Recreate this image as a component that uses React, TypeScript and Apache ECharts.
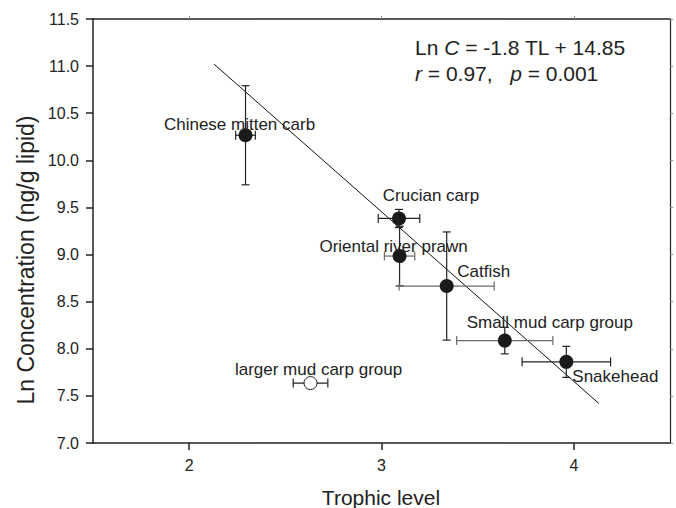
import React, { useEffect, useRef } from "react";
import * as echarts from "echarts";

// ---- data ----
const species = [
  "Chinese mitten carb",
  "Crucian carp",
  "Oriental river prawn",
  "Catfish",
  "Small mud carp group",
  "Snakehead",
  "larger mud carp group",
];
const trophicLevel = [2.293, 3.091, 3.094, 3.339, 3.641, 3.961, 2.631];
const lnConcentration = [10.266, 9.383, 8.984, 8.666, 8.087, 7.861, 7.636];
const trophicErr = [0.051, 0.108, 0.079, 0.247, 0.25, 0.23, 0.09];
const concErr = [0.526, 0.096, 0.317, 0.574, 0.141, 0.165, 0];
const regressionLine = [
  [2.13, 11.02],
  [4.13, 7.42],
];
const xTicks = { min: 1.5, max: 4.5, interval: 0.5 };
const yTicks = { min: 7.0, max: 11.5, interval: 0.5 };
const xTitle = "Trophic level";
const yTitle = "Ln Concentration (ng/g lipid)";
const equationLine1 = "Ln {i|C} = -1.8 TL + 14.85";
const equationLine2 = "{i|r} = 0.97,   {i|p} = 0.001";

// ---- presentation ----
const FONT = "'Liberation Sans', Arial, Helvetica, sans-serif";
const openMarker = new Set(["larger mud carp group"]);
const greyHBar = new Set(["Catfish", "Small mud carp group", "Oriental river prawn"]);
const labelOffsets: Record<string, [number, number]> = {
  "Chinese mitten carb": [-6, -11],
  "Crucian carp": [32, -23],
  "Oriental river prawn": [-6, -10],
  Catfish: [37, -15],
  "Small mud carp group": [45, -18],
  Snakehead: [49, 15],
  "larger mud carp group": [8, -14],
};

export default function App() {
  const ref = useRef<HTMLDivElement>(null);
  useEffect(() => {
    if (!ref.current) return;
    const chart = echarts.init(ref.current, undefined, { renderer: "svg" });

    const errData = species.map((s, i) => [
      trophicLevel[i],
      lnConcentration[i],
      trophicErr[i],
      concErr[i],
      i,
    ]);

    const pointData = species.map((s, i) => ({
      name: s,
      value: [trophicLevel[i], lnConcentration[i]],
      symbolSize: openMarker.has(s) ? 13 : 14,
      itemStyle: openMarker.has(s)
        ? { color: "#ffffff", borderColor: "#222", borderWidth: 1, opacity: 1 }
        : { color: "#1a1a1a", borderColor: "#1a1a1a", borderWidth: 0, opacity: 1 },
      label: {
        show: true,
        position: "inside",
        offset: labelOffsets[s],
        formatter: s,
        color: "#222",
        fontSize: 17,
        fontFamily: FONT,
        textBorderWidth: 0,
      },
    }));

    const axisLine = { show: true, lineStyle: { color: "#222", width: 1.5 } };

    chart.setOption({
      animation: false,
      backgroundColor: "#ffffff",
      grid: { left: 93, right: 6, top: 19, bottom: 65, containLabel: false },
      xAxis: [
        {
          type: "value",
          ...xTicks,
          position: "bottom",
          axisLine,
          axisTick: {
            show: true,
            inside: false,
            length: 7,
            lineStyle: { color: "#222", width: 1.5 },
            customValues: [2, 3, 4],
          },
          axisLabel: {
            show: true,
            margin: 14,
            fontSize: 16,
            color: "#222",
            fontFamily: FONT,
            customValues: [2, 3, 4],
            formatter: (v: number) => String(v),
          },
          splitLine: { show: false },
        },
        {
          type: "value",
          ...xTicks,
          position: "top",
          axisLine,
          axisTick: {
            show: true,
            inside: false,
            length: 3,
            lineStyle: { color: "#888", width: 1 },
            customValues: [2, 3, 4],
          },
          axisLabel: { show: false },
          splitLine: { show: false },
        },
      ],
      yAxis: [
        {
          type: "value",
          ...yTicks,
          position: "left",
          axisLine,
          axisTick: {
            show: true,
            inside: false,
            length: 7,
            lineStyle: { color: "#222", width: 1.5 },
          },
          axisLabel: {
            show: true,
            margin: 14,
            fontSize: 16,
            color: "#222",
            fontFamily: FONT,
            formatter: (v: number) => v.toFixed(1),
          },
          splitLine: { show: false },
        },
        {
          type: "value",
          ...yTicks,
          position: "right",
          axisLine: { show: true, lineStyle: { color: "#222", width: 1.2 } },
          axisTick: {
            show: true,
            inside: false,
            length: 3,
            lineStyle: { color: "#888", width: 1 },
          },
          axisLabel: { show: false },
          splitLine: { show: false },
        },
      ],
      series: [
        {
          type: "line",
          data: regressionLine,
          showSymbol: false,
          symbol: "none",
          lineStyle: { color: "#111", width: 1 },
          silent: true,
          z: 1,
        },
        {
          type: "custom",
          data: errData,
          z: 2,
          renderItem: (params: any, api: any) => {
            const x = api.value(0);
            const y = api.value(1);
            const ex = api.value(2);
            const ey = api.value(3);
            const idx = api.value(4);
            const name = species[idx];
            const hColor = greyHBar.has(name) ? "#6a6a6a" : "#222";
            const vColor = "#222";
            const children: any[] = [];
            const cap = 4.5;
            if (ex > 0) {
              const l = api.coord([x - ex, y]);
              const r = api.coord([x + ex, y]);
              children.push(
                { type: "line", shape: { x1: l[0], y1: l[1], x2: r[0], y2: r[1] }, style: { stroke: hColor, lineWidth: 1.2 } },
                { type: "line", shape: { x1: l[0], y1: l[1] - cap, x2: l[0], y2: l[1] + cap }, style: { stroke: hColor, lineWidth: 1.2 } },
                { type: "line", shape: { x1: r[0], y1: r[1] - cap, x2: r[0], y2: r[1] + cap }, style: { stroke: hColor, lineWidth: 1.2 } }
              );
            }
            if (ey > 0) {
              const t = api.coord([x, y + ey]);
              const b = api.coord([x, y - ey]);
              children.push(
                { type: "line", shape: { x1: t[0], y1: t[1], x2: b[0], y2: b[1] }, style: { stroke: vColor, lineWidth: 1.2 } },
                { type: "line", shape: { x1: t[0] - 4, y1: t[1], x2: t[0] + 4, y2: t[1] }, style: { stroke: vColor, lineWidth: 1.2 } },
                { type: "line", shape: { x1: b[0] - 4, y1: b[1], x2: b[0] + 4, y2: b[1] }, style: { stroke: vColor, lineWidth: 1.2 } }
              );
            }
            return { type: "group", children };
          },
        },
        {
          type: "scatter",
          data: pointData,
          z: 3,
          symbol: "circle",
          itemStyle: { opacity: 1 },
        },
      ],
      graphic: [
        {
          type: "text",
          x: 381,
          y: 497,
          style: {
            text: xTitle,
            fontSize: 21,
            fontFamily: FONT,
            fill: "#222",
            textAlign: "center",
            textVerticalAlign: "middle",
          },
        },
        {
          type: "text",
          x: 26,
          y: 260,
          rotation: Math.PI / 2,
          style: {
            text: yTitle,
            fontSize: 23,
            fontFamily: FONT,
            fill: "#222",
            textAlign: "center",
            textVerticalAlign: "middle",
          },
        },
        {
          type: "text",
          x: 415,
          y: 47,
          style: {
            text: equationLine1,
            fontSize: 21,
            fontFamily: FONT,
            fill: "#222",
            textVerticalAlign: "middle",
            rich: { i: { fontStyle: "italic", fontSize: 21, fontFamily: FONT, fill: "#222" } },
          },
        },
        {
          type: "text",
          x: 415,
          y: 73,
          style: {
            text: equationLine2,
            fontSize: 21,
            fontFamily: FONT,
            fill: "#222",
            textVerticalAlign: "middle",
            rich: { i: { fontStyle: "italic", fontSize: 21, fontFamily: FONT, fill: "#222" } },
          },
        },
      ],
    });
    return () => chart.dispose();
  }, []);

  return (
    <div
      ref={ref}
      style={{ position: "fixed", left: 0, top: 0, width: 676, height: 508, background: "#fff" }}
    />
  );
}
